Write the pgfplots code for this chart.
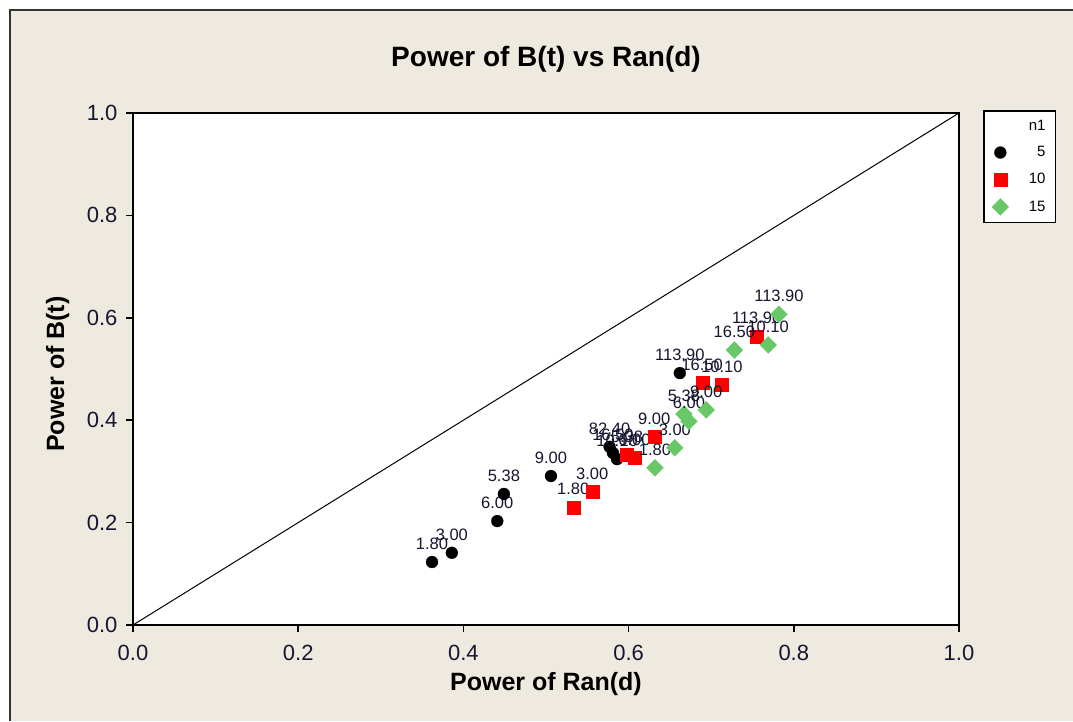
\documentclass[border=0pt]{standalone}
\usepackage{pgfplots}
\pgfplotsset{compat=1.18}
\usepackage{pgfplotstable}
\usepackage{fontspec}
\setmainfont{Liberation Sans}

\definecolor{panel}{RGB}{238,234,224}
\definecolor{mtred}{RGB}{255,0,0}
\definecolor{mtgreen}{RGB}{104,200,104}
\definecolor{labtext}{RGB}{22,22,48}

% power of Ran(d) (x), power of B(t) (y), label for each n1 group
\pgfplotstableread{
x     y     lab
0.362 0.123 1.80
0.386 0.141 3.00
0.441 0.203 6.00
0.449 0.256 5.38
0.506 0.291 9.00
0.577 0.348 82.40
0.581 0.336 16.50
0.586 0.324 10.10
0.662 0.492 113.90
}\groupfive

\pgfplotstableread{
x     y     lab
0.533 0.230 1.80
0.556 0.260 3.00
0.598 0.332 5.38
0.607 0.326 6.00
0.631 0.367 9.00
0.689 0.473 16.50
0.713 0.469 10.10
0.755 0.564 113.90
}\groupten

\pgfplotstableread{
x     y     lab
0.632 0.307 1.80
0.656 0.346 3.00
0.667 0.412 5.38
0.673 0.398 6.00
0.694 0.420 9.00
0.728 0.537 16.50
0.769 0.547 10.10
0.782 0.607 113.90
}\groupfifteen

\begin{document}
\begin{tikzpicture}
\useasboundingbox (-133pt,-96pt) rectangle (940pt,625pt);
\fill[white] (-133pt,-96pt) rectangle (940pt,625pt);
\fill[panel] (-123pt,-96pt) rectangle (940pt,615pt);
\draw[line width=1.8pt, black!80] (-123pt,-96pt) -- (-123pt,615pt) -- (940pt,615pt);
\begin{axis}[
  scale only axis, width=826pt, height=512pt,
  xmin=0, xmax=1, ymin=0, ymax=1,
  axis background/.style={fill=white},
  axis line style={line width=1.6pt},
  xtick={0,0.2,0.4,0.6,0.8,1.0},
  ytick={0,0.2,0.4,0.6,0.8,1.0},
  tick pos=left, tick align=outside,
  major tick length=7pt,
  every tick/.style={line width=1.6pt, black},
  /pgf/number format/assume math mode=true,
  /pgf/number format/fixed,
  /pgf/number format/fixed zerofill,
  /pgf/number format/precision=1,
  ticklabel style={font=\fontsize{22}{22}\selectfont, text=labtext},
  xticklabel style={yshift=-10pt},
  yticklabel style={xshift=-5pt},
  title={Power of B(t) vs Ran(d)},
  title style={font=\bfseries\fontsize{28}{28}\selectfont, at={(0.5,1)}, anchor=base, yshift=40pt},
  xlabel={Power of Ran(d)},
  xlabel style={font=\bfseries\fontsize{25}{25}\selectfont, at={(axis description cs:0.5,0)}, anchor=base, yshift=-65pt},
  ylabel={Power of B(t)},
  ylabel style={font=\bfseries\fontsize{25}{25}\selectfont, at={(axis description cs:-0.0835,0.49)}, anchor=base},
  legend cell align=right,
  legend style={at={(1,1)}, anchor=north west, xshift=24pt, yshift=3pt,
    draw=black, line width=1.6pt, fill=white, inner xsep=8pt, inner ysep=7pt,
    font=\fontsize{15}{15}\selectfont, row sep=11pt,
    /tikz/every odd column/.append style={column sep=18pt}},
  every node near coord/.append style={font=\fontsize{16.5}{16.5}\selectfont, text=labtext, anchor=base, yshift=12.5pt},
]
\addlegendimage{empty legend}
\addlegendentry{n1}

% reference line of equal power
\addplot[black, line width=1pt, forget plot] coordinates {(0,0) (1,1)};

\addplot[only marks, mark=*, color=black, mark size=6pt,
  mark options={line width=0.2pt},
  nodes near coords, point meta=explicit symbolic]
  table[x=x, y=y, meta=lab] {\groupfive};
\addlegendentry{5}

\addplot[only marks, mark=square*, color=mtred, mark size=6.5pt,
  mark options={line width=0.2pt},
  nodes near coords, point meta=explicit symbolic]
  table[x=x, y=y, meta=lab] {\groupten};
\addlegendentry{10}

\addplot[only marks, mark=square*, color=mtgreen, mark size=6pt,
  mark options={rotate=45, line width=0.2pt},
  nodes near coords, point meta=explicit symbolic]
  table[x=x, y=y, meta=lab] {\groupfifteen};
\addlegendentry{15}
\end{axis}
\end{tikzpicture}
\end{document}
